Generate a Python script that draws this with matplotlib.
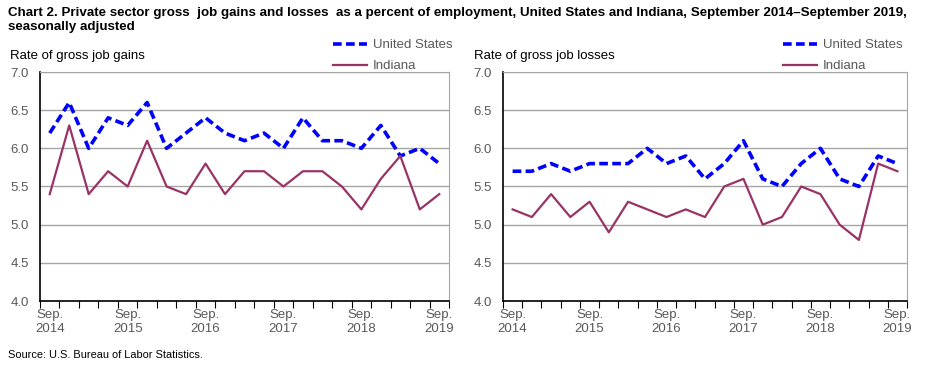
import numpy as np
import matplotlib.pyplot as plt

plt.rcParams['font.family'] = ['Liberation Sans', 'DejaVu Sans']

# Quarterly data, Sep 2014 - Sep 2019
quarters = np.arange(21)
tick_labels = ['Sep.\n2014', 'Sep.\n2015', 'Sep.\n2016', 'Sep.\n2017', 'Sep.\n2018', 'Sep.\n2019']
tick_pos = [0, 4, 8, 12, 16, 20]

us_gains = [6.2, 6.6, 6.0, 6.4, 6.3, 6.6, 6.0, 6.2, 6.4, 6.2, 6.1,
            6.2, 6.0, 6.4, 6.1, 6.1, 6.0, 6.3, 5.9, 6.0, 5.8]
in_gains = [5.4, 6.3, 5.4, 5.7, 5.5, 6.1, 5.5, 5.4, 5.8, 5.4, 5.7,
            5.7, 5.5, 5.7, 5.7, 5.5, 5.2, 5.6, 5.9, 5.2, 5.4]
us_losses = [5.7, 5.7, 5.8, 5.7, 5.8, 5.8, 5.8, 6.0, 5.8, 5.9, 5.6,
             5.8, 6.1, 5.6, 5.5, 5.8, 6.0, 5.6, 5.5, 5.9, 5.8]
in_losses = [5.2, 5.1, 5.4, 5.1, 5.3, 4.9, 5.3, 5.2, 5.1, 5.2, 5.1,
             5.5, 5.6, 5.0, 5.1, 5.5, 5.4, 5.0, 4.8, 5.8, 5.7]

us_color = '#0000FF'
in_color = '#993366'
grid_color = '#A6A6A6'
text_gray = '#595959'

W, H = 930, 371
fig = plt.figure(figsize=(W / 100, H / 100), dpi=100)

def make_axes(left, right, top=72, bottom=301):
    return fig.add_axes([left / W, 1 - bottom / H, (right - left) / W, (bottom - top) / H])

panels = [
    (make_axes(40, 449), us_gains, in_gains, 'Rate of gross job gains', 10, 333),
    (make_axes(503, 907), us_losses, in_losses, 'Rate of gross job losses', 474, 783),
]

for ax, us, ind, ylabel, lab_x, leg_x in panels:
    ax.plot(quarters, us, color=us_color, lw=2.6, ls=(0, (2.4, 1.2)), label='United States')
    ax.plot(quarters, ind, color=in_color, lw=1.6, label='Indiana')
    ax.set_xlim(-0.5, 20.5)
    ax.set_ylim(4.0, 7.0)
    ax.set_yticks(np.arange(4.0, 7.01, 0.5))
    ax.set_yticklabels([f'{v:.1f}' for v in np.arange(4.0, 7.01, 0.5)])
    ax.yaxis.grid(True, color=grid_color, lw=1)
    ax.set_axisbelow(True)
    ax.tick_params(axis='y', length=0, labelsize=9.5, labelcolor=text_gray, pad=8)
    # category ticks between points
    ax.set_xticks(np.arange(-0.5, 21, 1))
    ax.set_xticklabels([])
    ax.set_xticks(tick_pos, minor=True)
    ax.set_xticklabels(tick_labels, minor=True)
    ax.tick_params(axis='x', which='major', length=5, direction='out', color='black')
    ax.tick_params(axis='x', which='minor', length=0, labelsize=9.5, labelcolor=text_gray, pad=6)
    for s in ['top', 'right']:
        ax.spines[s].set_color(grid_color)
    for s in ['left', 'bottom']:
        ax.spines[s].set_color('black')
        ax.spines[s].set_linewidth(1.2)
    fig.text(lab_x / W, 1 - 56 / H, ylabel, fontsize=9.5, va='center', ha='left')
    ax.legend(loc='upper left', bbox_to_anchor=(leg_x / W, 1 - 39 / H),
              bbox_transform=fig.transFigure, frameon=False, fontsize=9.5,
              handlelength=2.6, handletextpad=0.4, labelspacing=0.68,
              borderaxespad=0, borderpad=0, labelcolor=text_gray)

fig.text(8 / W, 1 - 20 / H,
         'Chart 2. Private sector gross  job gains and losses  as a percent of employment, '
         'United States and Indiana, September 2014\u2013September 2019,\nseasonally adjusted',
         fontsize=9.6, fontweight='bold', va='center', ha='left', linespacing=1.3)
fig.text(8 / W, 1 - 355 / H, 'Source: U.S. Bureau of Labor Statistics.', fontsize=7.9,
         va='center', ha='left')

fig.savefig('out.png', dpi=100)
